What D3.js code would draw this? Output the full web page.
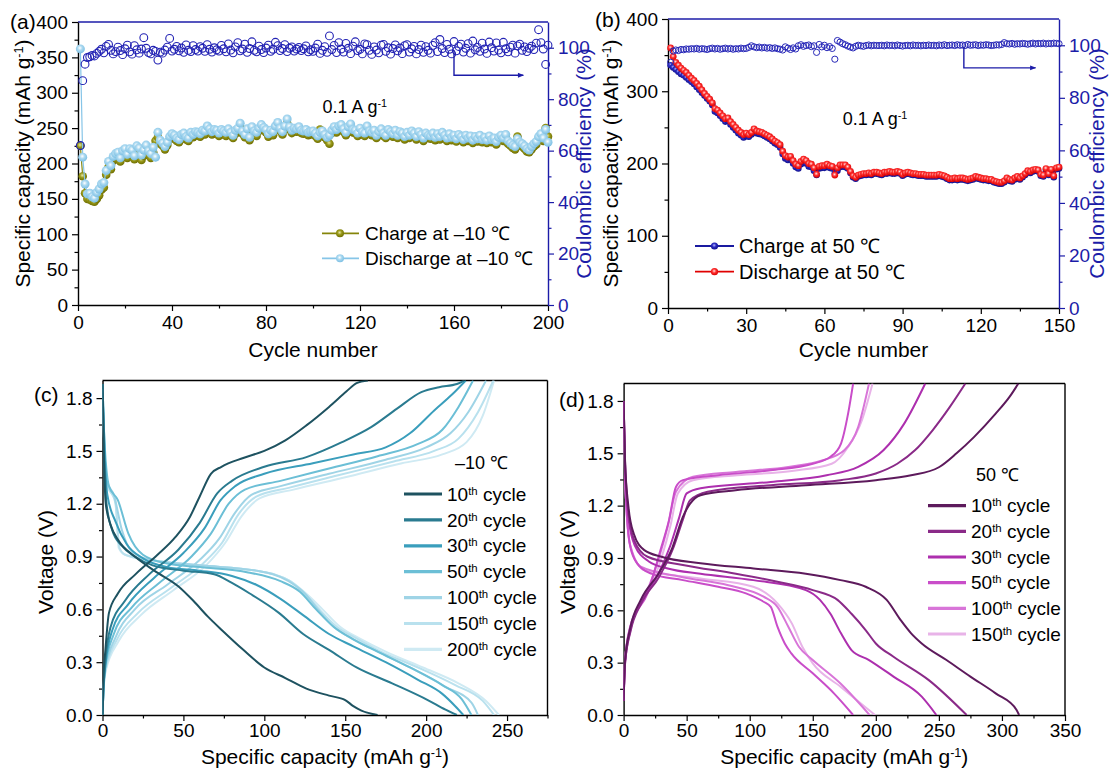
<!DOCTYPE html>
<html>
<head>
<meta charset="utf-8">
<script src="https://cdn.jsdelivr.net/npm/d3@7"></script>
<style>
  body { margin: 0; background: #fff; }
  svg { display: block; }
</style>
</head>
<body>
<svg id="fig" width="1111" height="773"></svg>
<script>
// ---------------- (a) cycling at -10 °C, 0.1 A g-1 ----------------
const cyclesA = d3.range(1, 201);
const dischargeA = [
  362,209,171,157,158,153,151,159,164,171, 173,190,203,197,210,214,216,208,218,221,
  213,221,219,211,225,222,212,219,226,218, 214,223,209,244,233,229,224,230,238,242,
  240,236,234,241,243,238,236,244,241,245, 244,242,247,246,253,249,245,248,247,243,
  248,246,244,249,244,240,247,250,257,246, 241,249,237,252,246,244,250,255,251,248,
  242,247,245,253,258,250,245,253,263,252, 247,250,249,252,247,246,248,244,245,246,
  243,239,244,246,241,237,240,247,252,248, 253,255,249,244,252,256,248,247,243,250,
  245,243,253,246,244,247,240,245,249,243, 240,248,245,242,247,240,245,243,238,244,
  240,246,243,238,245,241,236,243,240,239, 243,237,242,238,244,240,236,242,237,240,
  235,241,238,234,240,236,239,233,238,235, 240,234,237,233,239,234,236,231,237,240,
  236,241,232,229,226,224,235,230,228,225, 221,219,224,228,231,238,242,236,248,230
];
const chargeA = [
  225,182,158,150,149,147,146,150,155,163, 166,184,195,192,204,207,210,203,211,214,
  208,214,211,206,217,215,205,211,220,212, 208,216,232,237,228,225,220,226,234,237,
  236,232,230,236,239,234,232,239,237,240, 240,238,242,241,248,245,241,243,242,239,
  244,241,239,244,240,236,242,245,252,242, 237,244,233,247,241,239,246,251,247,244,
  238,243,240,248,254,246,241,248,257,248, 243,246,245,248,243,242,244,240,241,242,
  239,235,248,242,237,233,228,243,248,244, 249,251,245,240,248,251,244,243,239,246,
  241,239,249,242,240,243,236,241,245,239, 236,244,241,238,243,236,241,239,234,240,
  236,242,239,234,241,237,232,239,236,235, 239,233,238,234,240,236,232,238,233,236,
  231,237,234,230,236,232,235,229,234,231, 236,230,233,229,235,230,232,227,233,236,
  232,237,228,225,222,220,238,226,224,221, 217,216,220,224,227,234,238,232,250,238
];
const ceA = [
  62.0,87.2,93.6,96.2,96.5,97.0,96.8,97.8,98.6,99.4, 98.0,100.5,101.3,99.0,97.6,98.5,100.2,98.9,97.3,99.6,
  101.0,98.4,97.5,100.8,99.2,97.9,99.5,103.9,99.8,98.1, 97.6,99.0,98.6,95.2,98.3,97.9,99.1,100.2,103.6,98.7,
  99.4,100.5,98.8,99.9,98.2,101.1,99.0,98.5,100.8,99.3, 98.7,100.4,99.8,98.6,101.2,99.4,98.3,100.0,99.2,98.7,
  100.9,99.6,98.4,101.5,99.1,98.0,100.3,102.0,98.8,99.5, 101.4,98.2,99.7,102.3,99.0,98.4,100.6,99.3,98.1,99.9,
  101.0,98.6,99.4,102.1,100.8,98.9,99.7,101.2,98.5,99.8, 100.3,98.7,99.5,100.1,98.9,99.6,100.7,98.4,99.2,98.6,
  99.9,101.4,97.8,99.0,100.4,98.2,104.6,99.3,100.9,98.1, 102.0,99.5,98.3,101.7,99.8,97.7,100.6,102.3,98.9,99.4,
  97.6,101.5,101.2,99.0,97.4,100.3,99.1,98.0,101.0,101.3, 98.6,100.0,97.5,99.7,101.1,98.8,99.9,97.7,100.8,101.2,
  98.3,99.6,100.5,97.6,99.3,101.0,98.2,100.4,99.0,97.9, 100.9,102.0,98.5,103.2,99.7,98.1,101.3,99.4,97.6,102.4,
  98.8,100.5,101.4,98.3,99.8,101.6,97.9,102.6,99.2,100.1, 98.6,101.8,99.5,97.8,102.2,100.0,98.7,101.9,99.1,98.0,
  102.1,99.6,98.4,100.2,101.0,97.9,100.7,101.4,99.0,100.3, 98.5,99.8,100.6,99.3,101.8,107.0,102.0,99.5,93.5,101.0
];

// ---------------- (b) cycling at 50 °C, 0.1 A g-1 ----------------
const cyclesB = d3.range(1, 151);
const dischargeB = [
  360,348,340,336,332,329,326,322,318,315, 311,307,302,297,293,289,284,276,274,270,
  266,262,263,258,254,250,246,243,240,242, 240,243,248,245,244,243,241,239,237,234,
  231,229,226,217,211,209,210,204,199,197, 203,206,204,200,199,194,185,196,197,197,
  199,197,196,184,194,198,198,198,195,189, 183,181,184,185,186,186,187,186,188,188,
  187,186,188,188,189,188,188,189,188,185, 187,188,187,186,186,185,185,185,184,184,
  184,184,184,185,184,183,181,179,179,180, 179,180,180,179,178,179,180,182,181,180,
  179,179,178,178,176,175,174,174,176,180, 178,177,180,182,180,183,186,190,189,191,
  192,191,185,184,193,186,192,183,194,195
];
const chargeB = [
  336,333,330,327,324,322,319,316,313,310, 306,302,298,294,290,286,281,272,270,266,
  262,258,259,254,250,246,242,239,236,238, 237,240,244,242,241,240,238,236,234,231,
  228,226,222,213,207,205,206,200,195,193, 199,202,200,196,195,190,184,193,194,194,
  196,194,193,186,190,195,196,195,193,187, 181,179,182,183,184,184,185,184,186,186,
  185,184,186,186,187,186,186,187,186,183, 185,186,185,184,184,183,183,183,182,182,
  182,182,182,183,182,181,179,177,177,178, 177,178,178,177,176,177,178,180,179,178,
  177,177,176,176,174,173,172,172,174,178, 176,175,178,180,178,181,184,188,187,189,
  190,189,183,182,191,184,190,181,192,193
];
const ceB = [
  93.5,97.8,98.2,98.0,98.4,98.3,98.6,98.5,98.7,98.6, 98.8,98.5,98.7,98.6,98.4,98.7,98.9,98.6,98.8,98.5,
  98.7,98.9,98.6,98.8,98.5,98.7,98.6,98.9,98.7,98.8, 99.2,99.8,99.4,99.1,99.3,99.0,99.2,98.9,99.1,98.8,
  99.0,98.7,98.5,98.2,99.4,98.9,98.4,99.0,98.6,99.8, 100.2,99.6,99.9,100.1,99.5,99.8,97.3,100.3,99.4,100.0,
  99.1,99.5,98.8,94.7,101.8,101.2,100.6,100.2,99.7,99.3, 99.0,99.6,100.0,99.8,99.6,99.9,100.1,99.8,100.0,99.9,
  99.9,100.0,99.8,100.1,99.9,100.0,99.8,100.1,99.9,99.7, 99.9,100.0,99.8,100.1,99.9,100.0,99.8,100.0,99.9,100.1,
  99.9,100.0,99.8,100.1,99.9,100.2,99.9,100.0,100.1,99.9, 100.2,100.0,100.1,99.9,100.3,100.0,100.1,100.2,99.9,100.1,
  100.0,100.2,100.1,99.9,100.0,100.2,100.1,100.3,101.0,100.6, 100.5,100.7,100.4,100.6,100.5,100.7,100.6,100.4,100.6,100.8,
  100.5,100.7,100.6,100.8,100.5,100.7,100.6,100.8,100.7,100.6
];

// ---------------- (c) voltage profiles at -10 °C ----------------
const cCycleLabels = ["10", "20", "30", "50", "100", "150", "200"];
const c10Discharge = [[0,1.88],[0.8,1.5],[2,1.2],[5,1.08],[10,0.99],[20,0.9],[32,0.82],[47,0.73],[56,0.65],[65,0.56],[74,0.48],[87,0.37],[100,0.27],[113,0.21],[126,0.15],[140,0.11],[150,0.085],[155,0.05],[160,0.025],[170,0]];
const c10Charge    = [[0,0],[0.5,0.2],[1.8,0.37],[4,0.58],[9.5,0.69],[20.5,0.8],[34,0.91],[45,1.01],[54,1.125],[60,1.24],[67,1.37],[73.5,1.41],[87,1.46],[100,1.5],[113,1.56],[126,1.645],[140,1.75],[151,1.84],[157,1.885],[164,1.9]];
const c20Discharge = [[0,1.88],[1,1.5],[2.5,1.2],[6,1.05],[12,0.96],[20,0.9],[31,0.85],[50,0.82],[69,0.8],[80,0.75],[91,0.69],[109,0.58],[124,0.46],[140,0.37],[157,0.27],[179,0.18],[201,0.085],[212,0.03],[219,0]];
const c20Charge    = [[0,0],[0.6,0.15],[1.8,0.31],[5,0.5],[14,0.65],[29,0.8],[47,0.94],[60,1.09],[71,1.26],[80,1.33],[100,1.41],[126,1.465],[148,1.55],[166,1.635],[182,1.74],[197,1.834],[208,1.862],[219,1.88],[223.5,1.9]];
const c30Discharge = [[0,1.88],[1.5,1.45],[3,1.25],[8,1.1],[15,0.97],[25,0.89],[40,0.84],[60,0.82],[80,0.79],[95,0.74],[110,0.66],[125,0.56],[140,0.46],[155,0.39],[175,0.3],[195,0.2],[210,0.12],[218,0.05],[223,0]];
const c30Charge    = [[0,0],[0.6,0.15],[2,0.3],[6,0.48],[16,0.63],[32,0.78],[50,0.92],[63,1.06],[73,1.22],[82,1.3],[100,1.37],[130,1.43],[155,1.48],[175,1.52],[190,1.6],[205,1.73],[216,1.82],[224.5,1.9]];
const c50Discharge = [[0,1.88],[1,1.6],[4,1.3],[9.5,1.22],[16,1.03],[25,0.91],[40,0.86],[60,0.84],[90,0.81],[110,0.76],[122,0.7],[132,0.6],[143,0.5],[155,0.43],[170,0.36],[190,0.27],[210,0.17],[222,0.09],[228,0]];
const c50Charge    = [[0,0],[0.6,0.15],[2,0.29],[7,0.46],[18,0.61],[35,0.75],[55,0.9],[67,1.03],[78,1.2],[88,1.28],[110,1.33],[140,1.4],[170,1.47],[195,1.54],[210,1.62],[220,1.75],[229,1.9]];
const c100Discharge = [[0,1.85],[1,1.55],[3,1.32],[7,1.25],[12,1.05],[18,0.93],[30,0.88],[60,0.85],[95,0.82],[115,0.76],[125,0.69],[133,0.6],[143,0.5],[155,0.43],[170,0.36],[190,0.27],[212,0.16],[228,0.07],[232,0]];
const c100Charge    = [[0,0],[0.6,0.14],[2,0.27],[8,0.44],[20,0.6],[40,0.74],[60,0.88],[72,1.0],[82,1.15],[92,1.25],[110,1.3],[140,1.37],[175,1.45],[200,1.52],[215,1.6],[226,1.72],[237,1.9]];
const c150Discharge = [[0,1.85],[1,1.55],[3,1.32],[8,1.2],[10.5,0.95],[14,0.91],[30,0.88],[60,0.85],[95,0.82],[116,0.76],[126,0.68],[134,0.6],[145,0.5],[158,0.43],[172,0.36],[195,0.27],[218,0.17],[235,0.08],[242,0]];
const c150Charge    = [[0,0],[0.6,0.14],[2,0.26],[9,0.43],[22,0.58],[42,0.72],[62,0.86],[74,0.98],[84,1.14],[95,1.24],[115,1.29],[145,1.36],[180,1.44],[205,1.5],[220,1.57],[232,1.72],[241.5,1.9]];
const c200Discharge = [[0,1.85],[1,1.55],[3,1.3],[8,1.22],[10,0.95],[14,0.91],[30,0.88],[60,0.85],[95,0.82],[116,0.76],[127,0.68],[136,0.6],[147,0.5],[160,0.43],[175,0.36],[198,0.27],[220,0.18],[237,0.08],[245,0]];
const c200Charge    = [[0,0],[0.6,0.13],[2,0.25],[10,0.42],[24,0.57],[44,0.71],[64,0.85],[76,0.98],[86,1.13],[97,1.23],[118,1.28],[150,1.35],[185,1.43],[210,1.48],[225,1.55],[235,1.7],[242,1.9]];

// ---------------- (d) voltage profiles at 50 °C ----------------
const dCycleLabels = ["10", "20", "30", "50", "100", "150"];
const d10Discharge = [[0,1.8],[1.1,1.46],[3.9,1.19],[8,1.04],[16.4,0.945],[30,0.907],[61,0.87],[103,0.84],[144.5,0.81],[172,0.773],[192,0.735],[208.6,0.66],[219.7,0.544],[228,0.468],[236.4,0.41],[256,0.315],[275,0.22],[295,0.124],[311.6,0.029],[313.6,0]];
const d10Charge    = [[0,0.08],[1.1,0.31],[5.3,0.5],[13.6,0.66],[27.6,0.81],[38.7,0.96],[47,1.136],[52.6,1.21],[61,1.26],[88.8,1.288],[144.5,1.317],[200,1.346],[228,1.374],[250,1.42],[264,1.5],[278,1.594],[295,1.727],[306,1.823],[313,1.9]];
const d20Discharge = [[0,1.8],[1.2,1.45],[4,1.15],[8.5,1.0],[19,0.907],[47,0.86],[89,0.81],[122,0.764],[150,0.716],[169.6,0.66],[180.7,0.58],[191.9,0.487],[200,0.41],[214,0.334],[242,0.2],[272,0]];
const d20Charge    = [[0,0.08],[1.2,0.3],[5.5,0.48],[14,0.64],[28,0.79],[39,0.95],[47,1.12],[52.6,1.23],[66.6,1.28],[116.7,1.317],[172,1.346],[200,1.384],[217,1.44],[231,1.517],[245,1.632],[258.7,1.766],[271,1.9]];
const d30Discharge = [[0,1.8],[1.2,1.42],[4,1.12],[9,0.97],[20,0.88],[35,0.84],[61,0.81],[102.8,0.773],[144.5,0.716],[155.7,0.66],[164,0.58],[172.4,0.468],[180.7,0.372],[194.6,0.315],[214,0.22],[236.4,0.105],[248,0]];
const d30Charge    = [[0,0.08],[1.2,0.3],[5.5,0.49],[14,0.65],[27,0.8],[37,0.97],[44,1.13],[50,1.27],[61,1.3],[116.7,1.336],[161,1.374],[186,1.422],[206,1.517],[222.5,1.67],[239.2,1.9]];
const d50Discharge = [[0,1.8],[1.5,1.3],[5.3,0.964],[10.9,0.868],[22,0.81],[47,0.773],[75,0.735],[97,0.697],[111,0.649],[116.7,0.62],[122,0.506],[127.8,0.41],[133,0.353],[150,0.239],[166.8,0.124],[182,0]];
const d50Charge    = [[0,0.08],[1,0.3],[5.3,0.5],[19,0.7],[30,0.964],[36,1.117],[41.5,1.307],[47,1.346],[75,1.374],[116.7,1.403],[150,1.44],[164,1.48],[172.4,1.556],[178,1.727],[182,1.9]];
const d100Discharge = [[0,1.8],[1.5,1.3],[5,0.98],[13.6,0.85],[47,0.79],[83,0.744],[111,0.678],[122,0.62],[130.6,0.506],[139,0.391],[150,0.315],[172,0.18],[195,0]];
const d100Charge    = [[0,0.08],[1,0.3],[5,0.5],[17,0.68],[28,0.9],[35,1.08],[41.5,1.28],[55,1.365],[89,1.393],[130.6,1.422],[158,1.46],[175,1.517],[186,1.65],[194.6,1.9]];
const d150Discharge = [[0,1.8],[1.5,1.3],[5,0.98],[16.4,0.83],[61,0.783],[102.8,0.735],[122,0.64],[133.4,0.525],[141.7,0.391],[150,0.296],[172,0.162],[199.4,0]];
const d150Charge    = [[0,0.08],[1,0.3],[5,0.5],[18,0.68],[30,0.9],[37,1.08],[43,1.27],[55,1.346],[90,1.374],[135,1.4],[165,1.44],[178,1.536],[189,1.69],[197.4,1.9]];

// ---------------- shared style ----------------
const FONT = '"Liberation Sans", Arial, Helvetica, sans-serif';
const AX_BLUE = "#1c1ca8";
const TICK_FS = 19, TITLE_FS = 21, LEG_FS = 19;

const svg = d3.select("#fig");
svg.append("rect").attr("width", 1111).attr("height", 773).attr("fill", "#fff");
const defs = svg.append("defs");

function ballGradient(id, hi, mid, edge) {
  const g = defs.append("radialGradient").attr("id", id)
    .attr("cx", "45%").attr("cy", "40%").attr("r", "60%");
  g.append("stop").attr("offset", "0%").attr("stop-color", hi);
  g.append("stop").attr("offset", "45%").attr("stop-color", mid);
  g.append("stop").attr("offset", "100%").attr("stop-color", edge);
}
ballGradient("ballOlive", "#e6e6a6", "#9a9a1a", "#6e6e00");
ballGradient("ballSky", "#ffffff", "#a9d8f0", "#7cbfe3");
ballGradient("ballRed", "#ffe4e4", "#ff3030", "#d80000");
ballGradient("ballNavy", "#b8b8ff", "#2a2ac0", "#10108c");

function arrowHead(id, color) {
  defs.append("marker").attr("id", id).attr("viewBox", "0 0 10 10")
    .attr("refX", 9).attr("refY", 5).attr("markerWidth", 7).attr("markerHeight", 6)
    .attr("markerUnits", "userSpaceOnUse").attr("orient", "auto")
    .append("path").attr("d", "M0,1 L10,5 L0,9 Z").attr("fill", color);
}
arrowHead("arrA", AX_BLUE);

function drawAxis(orient, scale, major, minor, o) {
  const mk = { left: d3.axisLeft, right: d3.axisRight, bottom: d3.axisBottom }[orient];
  const g = svg.append("g").attr("transform", o.translate);
  if (minor && minor.length) {
    const mg = g.append("g").call(mk(scale).tickValues(minor).tickSize(3.5).tickFormat("").tickSizeOuter(0));
    mg.select(".domain").remove();
    mg.selectAll("line").attr("stroke", o.color).attr("stroke-width", 1.2);
  }
  const a = g.append("g").call(mk(scale).tickValues(major).tickSize(6).tickPadding(o.pad || 4)
    .tickSizeOuter(0).tickFormat(o.fmt || (d => String(d))));
  a.attr("font-size", null).attr("font-family", null);
  a.selectAll("line").attr("stroke", o.color).attr("stroke-width", 1.2);
  a.select(".domain").attr("stroke", o.color).attr("stroke-width", 1.4);
  a.selectAll("text").attr("fill", o.color).style("font-family", FONT).style("font-size", TICK_FS + "px");
  return g;
}

function addText(x, y, parts, o) {
  const t = svg.append("text").attr("x", x).attr("y", y)
    .style("font-family", FONT).style("font-size", (o.fs || TITLE_FS) + "px")
    .attr("fill", o.color || "#000").attr("text-anchor", o.anchor || "start");
  if (o.rotate) {
    t.attr("x", 0).attr("y", 0).attr("transform", `translate(${x},${y}) rotate(-90)`).attr("dy", "0.35em");
  }
  parts.forEach(p => {
    if (typeof p === "string") t.append("tspan").text(p);
    else t.append("tspan").attr("baseline-shift", "super").style("font-size", (o.fs || TITLE_FS) * 0.6 + "px").text(p.sup);
  });
  return t;
}

function hline(x1, x2, y, color) {
  svg.append("line").attr("x1", x1).attr("x2", x2).attr("y1", y).attr("y2", y)
    .attr("stroke", color).attr("stroke-width", 1.4);
}
function vline(x, y1, y2, color) {
  svg.append("line").attr("x1", x).attr("x2", x).attr("y1", y1).attr("y2", y2)
    .attr("stroke", color).attr("stroke-width", 1.4);
}

// ================= Panel (a) =================
{
  const L = 78, R = 548, T = 22, B = 305;
  const x = d3.scaleLinear().domain([0, 200]).range([L, R]);
  const y = d3.scaleLinear().domain([0, 400]).range([B, T]);
  const yR = d3.scaleLinear().domain([0, 110]).range([B, T]);

  hline(L, R, T, AX_BLUE);
  drawAxis("bottom", x, d3.range(0, 201, 40), d3.range(20, 200, 40), { translate: `translate(0,${B})`, color: "#000", pad: 5 });
  drawAxis("left", y, d3.range(0, 401, 50), d3.range(25, 400, 50), { translate: `translate(${L},0)`, color: "#000" });
  drawAxis("right", yR, d3.range(0, 101, 20), d3.range(10, 110, 20), { translate: `translate(${R},0)`, color: AX_BLUE });

  const line = d3.line().x((d, i) => x(cyclesA[i])).y(d => y(d));
  svg.append("path").datum(chargeA).attr("d", line).attr("fill", "none").attr("stroke", "#85850a").attr("stroke-width", 1.2);
  svg.append("g").selectAll("circle").data(chargeA).join("circle")
    .attr("cx", (d, i) => x(cyclesA[i])).attr("cy", d => y(d)).attr("r", 4.3)
    .attr("fill", "url(#ballOlive)");
  svg.append("path").datum(dischargeA).attr("d", line).attr("fill", "none").attr("stroke", "#86c5e8").attr("stroke-width", 1.2);
  svg.append("g").selectAll("circle").data(dischargeA).join("circle")
    .attr("cx", (d, i) => x(cyclesA[i])).attr("cy", d => y(d)).attr("r", 4.5)
    .attr("fill", "url(#ballSky)");
  svg.append("g").selectAll("circle").data(ceA).join("circle")
    .attr("cx", (d, i) => x(cyclesA[i])).attr("cy", d => yR(d)).attr("r", 3.9)
    .attr("fill", "none").attr("stroke", "#2323b4").attr("stroke-width", 1.1);

  // arrow pointing to the efficiency axis
  svg.append("path")
    .attr("d", `M${x(160)},${yR(99)} V${yR(89.3)} H${x(189.5)}`)
    .attr("fill", "none").attr("stroke", AX_BLUE).attr("stroke-width", 1.4)
    .attr("marker-end", "url(#arrA)");

  addText(x(104), y(272), ["0.1 A g", { sup: "-1" }], { fs: 18 });

  // legend
  const legA = [["Charge at –10 ℃", "#85850a", "url(#ballOlive)", 233.3], ["Discharge at –10 ℃", "#86c5e8", "url(#ballSky)", 258.3]];
  legA.forEach(([lab, stroke, fill, ly]) => {
    svg.append("line").attr("x1", 322).attr("x2", 359).attr("y1", ly).attr("y2", ly).attr("stroke", stroke).attr("stroke-width", 1.8);
    svg.append("circle").attr("cx", 340).attr("cy", ly).attr("r", 4).attr("fill", fill);
    addText(365, ly, [lab], { fs: LEG_FS }).attr("dy", "0.35em");
  });

  addText(10, 29, ["(a)"], { fs: 21 });
  addText((L + R) / 2, 357, ["Cycle number"], { anchor: "middle" });
  addText(23, (T + B) / 2, ["Specific capacity (mAh g", { sup: "-1" }, ")"], { rotate: true, anchor: "middle" });
  addText(584, (T + B) / 2, ["Coulombic efficiency (%)"], { rotate: true, anchor: "middle", color: AX_BLUE });
}

// ================= Panel (b) =================
{
  const L = 668, R = 1059, T = 19, B = 308;
  const x = d3.scaleLinear().domain([0, 150]).range([L, R]);
  const y = d3.scaleLinear().domain([0, 400]).range([B, T]);
  const yR = d3.scaleLinear().domain([0, 110]).range([B, T]);

  hline(L, R, T, AX_BLUE);
  drawAxis("bottom", x, d3.range(0, 151, 30), d3.range(15, 150, 30), { translate: `translate(0,${B})`, color: "#000", pad: 5 });
  drawAxis("left", y, d3.range(0, 401, 100), d3.range(50, 400, 100), { translate: `translate(${L},0)`, color: "#000" });
  drawAxis("right", yR, d3.range(0, 101, 20), d3.range(10, 110, 20), { translate: `translate(${R},0)`, color: AX_BLUE });

  const line = d3.line().x((d, i) => x(cyclesB[i])).y(d => y(d));
  svg.append("path").datum(chargeB).attr("d", line).attr("fill", "none").attr("stroke", "#1a1aa0").attr("stroke-width", 1.2);
  svg.append("g").selectAll("circle").data(chargeB).join("circle")
    .attr("cx", (d, i) => x(cyclesB[i])).attr("cy", d => y(d)).attr("r", 3.3)
    .attr("fill", "url(#ballNavy)");
  svg.append("path").datum(dischargeB).attr("d", line).attr("fill", "none").attr("stroke", "#e00000").attr("stroke-width", 1.2);
  svg.append("g").selectAll("circle").data(dischargeB).join("circle")
    .attr("cx", (d, i) => x(cyclesB[i])).attr("cy", d => y(d)).attr("r", 3.4)
    .attr("fill", "url(#ballRed)");
  svg.append("g").selectAll("circle").data(ceB).join("circle")
    .attr("cx", (d, i) => x(cyclesB[i])).attr("cy", d => yR(d)).attr("r", 3.1)
    .attr("fill", "none").attr("stroke", "#2828b8").attr("stroke-width", 1);

  svg.append("path")
    .attr("d", `M${x(113.5)},${yR(99.5)} V${yR(91.4)} H${x(141)}`)
    .attr("fill", "none").attr("stroke", AX_BLUE).attr("stroke-width", 1.4)
    .attr("marker-end", "url(#arrA)");

  addText(x(67), y(253), ["0.1 A g", { sup: "-1" }], { fs: 18 });

  const legB = [["Charge at 50 ℃", "#1a1aa0", "url(#ballNavy)", 246], ["Discharge at 50 ℃", "#e00000", "url(#ballRed)", 271.7]];
  legB.forEach(([lab, stroke, fill, ly]) => {
    svg.append("line").attr("x1", 695).attr("x2", 734).attr("y1", ly).attr("y2", ly).attr("stroke", stroke).attr("stroke-width", 1.8);
    svg.append("circle").attr("cx", 714.5).attr("cy", ly).attr("r", 3.6).attr("fill", fill);
    addText(739, ly, [lab], { fs: 20 }).attr("dy", "0.35em");
  });

  addText(595, 27, ["(b)"], { fs: 21 });
  addText((L + R) / 2, 357, ["Cycle number"], { anchor: "middle" });
  addText(611, (T + B) / 2, ["Specific capacity (mAh g", { sup: "-1" }, ")"], { rotate: true, anchor: "middle" });
  addText(1097, (T + B) / 2, ["Coulombic efficiency (%)"], { rotate: true, anchor: "middle", color: AX_BLUE });
}

// ================= Voltage profile panels =================
function profilePanel(o) {
  const { L, R, T, B, xMax, xMajor, xMinor, series, colors, labels, tag, tagPos, temp, tempPos, legX, legY0, legStep, yTitleX, clipId } = o;
  const x = d3.scaleLinear().domain([0, xMax]).range([L, R]);
  const y = d3.scaleLinear().domain([0, 1.9]).range([B, T]);

  defs.append("clipPath").attr("id", clipId).append("rect")
    .attr("x", L).attr("y", T).attr("width", R - L).attr("height", B - T);

  hline(L, R, T, "#000");
  vline(R, T, B, "#000");
  drawAxis("bottom", x, xMajor, xMinor, { translate: `translate(0,${B})`, color: "#000", pad: 3 });
  drawAxis("left", y, [0, 0.3, 0.6, 0.9, 1.2, 1.5, 1.8], [0.15, 0.45, 0.75, 1.05, 1.35, 1.65],
    { translate: `translate(${L},0)`, color: "#000", fmt: d3.format(".1f") });

  const line = d3.line().x(d => x(d[0])).y(d => y(d[1])).curve(d3.curveMonotoneX);
  const g = svg.append("g").attr("clip-path", `url(#${clipId})`);
  // lightest cycles first so the early cycles stay on top
  for (let i = series.length - 1; i >= 0; i--) {
    series[i].forEach(curve => {
      g.append("path").datum(curve).attr("d", line).attr("fill", "none")
        .attr("stroke", colors[i]).attr("stroke-width", 2).attr("stroke-linejoin", "round");
    });
  }

  addText(tempPos[0], tempPos[1], [temp], { fs: 18 }).attr("dy", "0.35em");
  labels.forEach((lab, i) => {
    const ly = legY0 + i * legStep;
    svg.append("line").attr("x1", legX).attr("x2", legX + 38).attr("y1", ly).attr("y2", ly)
      .attr("stroke", colors[i]).attr("stroke-width", 3.2);
    addText(legX + 43, ly, [lab, { sup: "th" }, " cycle"], { fs: LEG_FS }).attr("dy", "0.35em");
  });

  addText(tagPos[0], tagPos[1], [tag], { fs: 21 });
  addText((L + R) / 2, 764, ["Specific capacity (mAh g", { sup: "-1" }, ")"], { anchor: "middle" });
  addText(yTitleX, 562, ["Voltage (V)"], { rotate: true, anchor: "middle" });
}

profilePanel({
  L: 102.5, R: 547.5, T: 380.5, B: 715, xMax: 275,
  xMajor: d3.range(0, 251, 50), xMinor: d3.range(25, 276, 50),
  series: [[c10Discharge, c10Charge], [c20Discharge, c20Charge], [c30Discharge, c30Charge],
           [c50Discharge, c50Charge], [c100Discharge, c100Charge], [c150Discharge, c150Charge],
           [c200Discharge, c200Charge]],
  colors: ["#1e5260", "#2a7b90", "#3a9ebc", "#6cbfd6", "#9fd4e6", "#b9e1ee", "#cfeaf3"],
  labels: cCycleLabels, tag: "(c)", tagPos: [34, 402], temp: "–10 ℃", tempPos: [455, 463],
  legX: 404, legY0: 494, legStep: 25.9, yTitleX: 46, clipId: "clipC"
});

profilePanel({
  L: 623.6, R: 1065, T: 383.5, B: 715, xMax: 350,
  xMajor: d3.range(0, 351, 50), xMinor: d3.range(25, 350, 50),
  series: [[d10Discharge, d10Charge], [d20Discharge, d20Charge], [d30Discharge, d30Charge],
           [d50Discharge, d50Charge], [d100Discharge, d100Charge], [d150Discharge, d150Charge]],
  colors: ["#5d1a5c", "#8a2a88", "#ad2fae", "#c94dc9", "#d875d8", "#e8b3e8"],
  labels: dCycleLabels, tag: "(d)", tagPos: [559, 407], temp: "50 ℃", tempPos: [976, 475],
  legX: 928, legY0: 505.7, legStep: 25.66, yTitleX: 568, clipId: "clipD"
});
</script>
</body>
</html>
